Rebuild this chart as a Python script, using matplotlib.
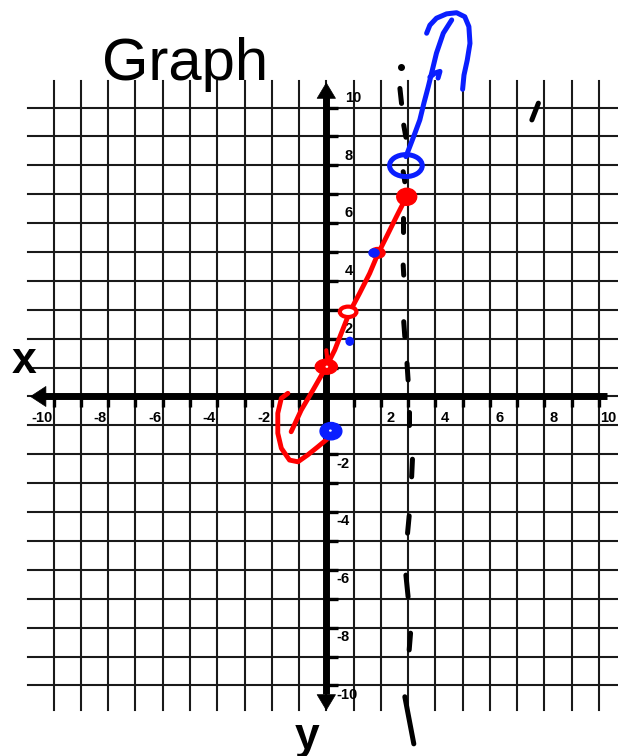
import matplotlib
matplotlib.use('Agg')
import matplotlib.pyplot as plt
from matplotlib.patches import Ellipse

plt.rcParams['font.family'] = ['Liberation Sans', 'DejaVu Sans']

# ---------------- data ----------------
grid_vals = list(range(-10, 11))
x_tick_labels = [-10, -8, -6, -4, -2, 2, 4, 6, 8, 10]
y_tick_labels = [10, 8, 6, 4, 2, -2, -4, -6, -8, -10]

# red hand-drawn line
red_line_x = [2.94, 2.57, 2.21, 1.90, 1.59, 1.22, 0.86, 0.55, 0.31, 0.0, -0.49, -0.92, -1.29]
red_line_y = [6.91, 6.22, 5.53, 4.95, 4.26, 3.57, 2.93, 2.19, 1.61, 1.03, 0.22, -0.47, -1.22]
# red hook curve
red_hook_x = [-1.41, -1.65, -1.78, -1.78, -1.65, -1.35, -1.04, -0.68, -0.31, 0.06]
red_hook_y = [0.11, -0.06, -0.58, -1.27, -1.79, -2.20, -2.26, -2.02, -1.74, -1.45]
red_tick_x = [0.0, 0.05]
red_tick_y = [1.60, 1.15]
# red filled blobs (x, y, w, h)
red_blob_x = [2.95, 0.0, 1.88]
red_blob_y = [6.91, 1.03, 4.97]
red_blob_w = [0.73, 0.81, 0.55]
red_blob_h = [0.59, 0.52, 0.37]
# red open ring
red_ring_x, red_ring_y = 0.80, 2.93

# blue curve from circle upward
blue_line_x = [2.92, 3.06, 3.25, 3.43, 3.58, 3.74, 3.86, 4.04, 4.29, 4.60]
blue_line_y = [8.30, 8.64, 9.11, 9.57, 10.15, 10.72, 11.18, 11.88, 12.57, 13.03]
blue_flourish_x = [3.80, 4.00, 4.17, 4.10]
blue_flourish_y = [11.05, 11.20, 11.25, 11.02]
# blue question-mark curve
blue_q_x = [3.68, 3.80, 4.04, 4.41, 4.78, 5.08, 5.23, 5.27, 5.17, 5.05, 5.00]
blue_q_y = [12.57, 12.85, 13.09, 13.24, 13.28, 13.14, 12.80, 12.22, 11.64, 11.12, 10.63]
# blue circle
blue_ring_x, blue_ring_y = 2.92, 7.99
# blue filled blobs
blue_blob_x = [0.17, 1.75, 0.86]
blue_blob_y = [-1.20, 4.97, 1.91]
blue_blob_w = [0.80, 0.37, 0.27]
blue_blob_h = [0.60, 0.28, 0.27]

# black dashes of the hand-drawn asymptote near x = 3
dash_x0 = [2.70, 2.84, 2.82, 2.82, 2.82, 2.84, 2.96, 3.04, 3.16, 3.04, 2.92, 3.09, 2.88]
dash_y0 = [10.66, 9.39, 7.78, 6.17, 4.55, 2.59, 1.15, -0.53, -2.17, -4.13, -6.18, -8.19, -10.39]
dash_x1 = [2.76, 2.92, 2.88, 2.82, 2.84, 2.88, 3.00, 3.04, 3.13, 2.98, 3.00, 3.04, 3.21]
dash_y1 = [10.14, 8.97, 7.43, 5.70, 4.20, 2.07, 0.57, -0.99, -2.78, -4.73, -6.93, -8.77, -12.02]
black_dot = (2.75, 11.40)
slash_x = [7.78, 7.54]
slash_y = [10.15, 9.57]

RED = '#ff0000'
BLUE = '#0a1eff'

# ---------------- figure ----------------
fig = plt.figure(figsize=(6.18, 7.56), dpi=100)
ax = fig.add_axes([0, 0, 1, 1])
ax.set_xlim(-11.97, 10.70)
ax.set_ylim(-12.44, 13.72)
ax.axis('off')

# grid
for v in grid_vals:
    ax.plot([-10.95, 11.5], [v, v], color='#1a1a1a', lw=1.5, zorder=1)
    ax.plot([v, v], [-10.85, 10.92], color='#1a1a1a', lw=1.5, zorder=1)

# axes lines
ax.plot([-10.4, 10.3], [0, 0], color='black', lw=5, zorder=2, solid_capstyle='butt')
ax.plot([0, 0], [-10.3, 10.35], color='black', lw=5, zorder=2, solid_capstyle='butt')
for tip, tail, hw in [((-10.87, 0), (-10.2, 0), 0.36), ((10.78, 0), (10.1, 0), 0.36),
                      ((0, 10.87), (0, 10.1), 0.33), ((0, -10.87), (0, -10.1), 0.33)]:
    ax.annotate('', xy=tip, xytext=tail,
                arrowprops=dict(arrowstyle='-|>,head_length=0.55,head_width=%s' % hw,
                                color='black', lw=0.5, shrinkA=0, shrinkB=0,
                                mutation_scale=20), zorder=2)

# ticks
for v in grid_vals:
    if v == 0:
        continue
    ax.plot([v, v], [0, -0.36], color='black', lw=2.4, zorder=2, solid_capstyle='butt')
    ax.plot([0, 0.42], [v, v], color='black', lw=2.4, zorder=2, solid_capstyle='butt')

# tick labels
for v in x_tick_labels:
    if v < 0:
        ax.text(v - 0.05, -0.87, str(v), ha='right', va='baseline', fontsize=10.5,
                fontweight='bold', zorder=3)
    else:
        off = 0.05 if v >= 10 else 0.2
        ax.text(v + off, -0.87, str(v), ha='left', va='baseline', fontsize=10.5,
                fontweight='bold', zorder=3)
for v in y_tick_labels:
    if v > 0:
        ax.text(0.68, v + 0.2, str(v), ha='left', va='baseline', fontsize=10.5,
                fontweight='bold', zorder=3)
    else:
        ax.text(0.38, v - 0.46, str(v), ha='left', va='baseline', fontsize=10.5,
                fontweight='bold', zorder=3)

# titles / axis letters
ax.text(-8.23, 10.95, 'Graph', fontsize=43, ha='left', va='baseline', zorder=3)
ax.text(-11.08, 0.81, 'x', fontsize=32, fontweight='bold', ha='center', va='baseline', zorder=3)
ax.text(-0.69, -12.2, 'y', fontsize=32, fontweight='bold', ha='center', va='baseline', zorder=3)

# black hand-drawn marks
for x0, y0, x1, y1 in zip(dash_x0, dash_y0, dash_x1, dash_y1):
    ax.plot([x0, x1], [y0, y1], color='black', lw=3.6, solid_capstyle='round', zorder=4)
ax.plot([black_dot[0]], [black_dot[1]], 'o', color='black', ms=4, zorder=4)
ax.plot(slash_x, slash_y, color='black', lw=3.6, solid_capstyle='round', zorder=4)

# red strokes
ax.plot(red_line_x, red_line_y, color=RED, lw=3.5, solid_capstyle='round', solid_joinstyle='round', zorder=5)
ax.plot(red_hook_x, red_hook_y, color=RED, lw=3.5, solid_capstyle='round', solid_joinstyle='round', zorder=5)
ax.plot(red_tick_x, red_tick_y, color=RED, lw=3.0, solid_capstyle='round', zorder=5)
for x, y, w, h in zip(red_blob_x, red_blob_y, red_blob_w, red_blob_h):
    ax.add_patch(Ellipse((x, y), w, h, fc=RED, ec=RED, lw=1, zorder=5))
ax.add_patch(Ellipse((red_blob_x[1] + 0.02, red_blob_y[1]), 0.1, 0.08, fc='white', ec='none', zorder=5.1))
ax.add_patch(Ellipse((red_ring_x, red_ring_y), 0.61, 0.36, fc='white', ec=RED, lw=3.0, zorder=5.2))

# blue strokes
ax.plot(blue_line_x, blue_line_y, color=BLUE, lw=3.6, solid_capstyle='round', solid_joinstyle='round', zorder=6)
ax.plot(blue_flourish_x, blue_flourish_y, color=BLUE, lw=3.6, solid_capstyle='round', solid_joinstyle='round', zorder=6)
ax.plot(blue_q_x, blue_q_y, color=BLUE, lw=3.6, solid_capstyle='round', solid_joinstyle='round', zorder=6)
ax.add_patch(Ellipse((blue_ring_x, blue_ring_y), 1.2, 0.76, fc='none', ec=BLUE, lw=3.6, zorder=6))
for x, y, w, h in zip(blue_blob_x, blue_blob_y, blue_blob_w, blue_blob_h):
    ax.add_patch(Ellipse((x, y), w, h, fc=BLUE, ec=BLUE, lw=1, zorder=6))
ax.add_patch(Ellipse((blue_blob_x[0] - 0.02, blue_blob_y[0] + 0.02), 0.1, 0.08, fc='white', ec='none', zorder=6.1))

fig.savefig('out.png', dpi=100)
